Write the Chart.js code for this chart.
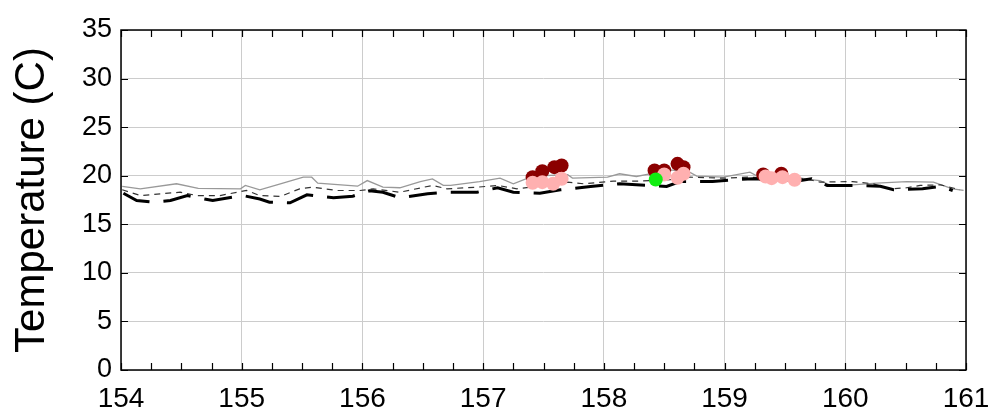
<!DOCTYPE html>
<html>
<head>
<meta charset="utf-8">
<script src="https://cdn.jsdelivr.net/npm/chart.js@4.4.1/dist/chart.umd.min.js"></script>
<style>
  html, body { margin: 0; padding: 0; background: #fff; }
  #wrap { width: 989px; height: 420px; }
</style>
</head>
<body>
<div id="wrap"><canvas id="tempChart"></canvas></div>
<script>
// thin gray solid line
const grayX = [154.01, 154.16, 154.46, 154.64, 154.99, 155.03, 155.15, 155.32, 155.51, 155.58, 155.63, 155.96, 156.04, 156.17, 156.31, 156.48, 156.58, 156.67, 156.73, 156.97, 157.14, 157.25, 157.37, 157.5, 157.70, 157.74, 158.03, 158.13, 158.27, 158.38, 158.55, 158.71, 158.77, 158.99, 159.21, 159.27, 159.46, 159.71, 159.79, 159.87, 160.06, 160.26, 160.51, 160.73, 160.89, 160.98];
const grayY = [18.9, 18.65, 19.17, 18.7, 18.65, 19.0, 18.55, 19.17, 19.85, 19.85, 19.23, 18.92, 19.5, 18.82, 18.76, 19.4, 19.68, 19.0, 19.0, 19.4, 19.75, 19.17, 19.75, 20.0, 20.1, 19.75, 19.85, 20.2, 19.92, 20.2, 20.6, 20.37, 19.96, 19.85, 20.37, 19.96, 20.1, 19.6, 19.5, 19.06, 19.06, 19.23, 19.4, 19.34, 18.65, 18.48];

// thin dark dashed line
const dashX = [154.01, 154.16, 154.49, 154.63, 154.82, 155.04, 155.15, 155.32, 155.48, 155.59, 155.79, 155.98, 156.09, 156.31, 156.58, 156.70, 156.95, 157.12, 157.28, 157.5, 157.70, 157.83, 158.08, 158.27, 158.38, 158.55, 158.71, 158.99, 159.19, 159.45, 159.68, 159.79, 160.06, 160.23, 160.37, 160.51, 160.62, 160.79, 160.95];
const dashY = [18.55, 17.96, 18.3, 17.96, 17.96, 18.48, 17.96, 17.86, 18.65, 18.82, 18.48, 18.48, 18.65, 18.3, 19.0, 18.65, 18.82, 19.0, 18.65, 19.0, 19.34, 19.17, 19.44, 19.44, 19.5, 19.6, 19.85, 19.75, 19.85, 19.7, 19.68, 19.34, 19.4, 19.17, 18.65, 18.76, 19.0, 19.06, 18.55];

// thick black long-dashed line
const blackX = [154.02, 154.13, 154.27, 154.41, 154.55, 154.61, 154.76, 155.01, 155.15, 155.23, 155.40, 155.54, 155.76, 155.92, 156.06, 156.17, 156.31, 156.54, 156.70, 156.95, 157.12, 157.25, 157.47, 157.64, 157.89, 158.13, 158.27, 158.52, 158.63, 158.90, 159.07, 159.24, 159.45, 159.63, 159.72, 159.85, 160.06, 160.29, 160.40, 160.64, 160.79, 160.89];
const blackY = [18.2, 17.45, 17.28, 17.45, 17.96, 17.8, 17.45, 17.96, 17.6, 17.28, 17.21, 18.03, 17.73, 17.89, 18.45, 18.3, 17.73, 18.14, 18.3, 18.3, 18.76, 18.3, 18.2, 18.55, 18.89, 19.17, 19.06, 18.89, 19.4, 19.4, 19.58, 19.68, 19.6, 19.5, 19.68, 19.0, 19.0, 18.92, 18.55, 18.65, 18.92, 18.48];

// observation dots
const darkRedX = [157.41, 157.49, 157.59, 157.65, 158.42, 158.50, 158.61, 158.66, 159.32, 159.47];
const darkRedY = [19.85, 20.47, 20.88, 21.05, 20.54, 20.54, 21.22, 20.88, 20.12, 20.2];
const pinkX = [157.41, 157.49, 157.58, 157.65, 158.50, 158.61, 158.66, 159.34, 159.39, 159.48, 159.58];
const pinkY = [19.27, 19.34, 19.17, 19.68, 20.12, 19.78, 20.2, 19.92, 19.75, 19.85, 19.58];
const greenX = [158.43];
const greenY = [19.61];

const xTicks = [154, 155, 156, 157, 158, 159, 160, 161];
const yTicks = [0, 5, 10, 15, 20, 25, 30, 35];

const pts = (xs, ys) => xs.map((x, i) => ({ x: x, y: ys[i] }));

// box round the plot with inward tick marks
const frameTicks = {
  id: 'frameTicks',
  afterDraw(chart) {
    const { ctx, chartArea: a, scales } = chart;
    const xs = scales.x, ys = scales.y;
    const len = 7;
    ctx.save();
    ctx.strokeStyle = '#000';
    ctx.lineWidth = 1.2;
    ctx.beginPath();
    for (let v = xs.min; v <= xs.max + 1e-9; v += 0.25) {
      const px = Math.round(xs.getPixelForValue(v)) + 0.5;
      ctx.moveTo(px, a.bottom); ctx.lineTo(px, a.bottom - len);
      ctx.moveTo(px, a.top); ctx.lineTo(px, a.top + len);
    }
    yTicks.forEach(v => {
      const py = Math.round(ys.getPixelForValue(v)) + 0.5;
      ctx.moveTo(a.left, py); ctx.lineTo(a.left + len, py);
      ctx.moveTo(a.right, py); ctx.lineTo(a.right - len, py);
    });
    ctx.stroke();
    ctx.lineWidth = 1.5;
    ctx.strokeRect(a.left, a.top, a.right - a.left, a.bottom - a.top);
    ctx.restore();
  }
};

Chart.defaults.font.family = '"Liberation Sans", Arial, sans-serif';
Chart.defaults.color = '#000';

new Chart(document.getElementById('tempChart'), {
  type: 'line',
  data: {
    datasets: [
      { type: 'scatter', data: pts(greenX, greenY), backgroundColor: '#11ee11', borderWidth: 0, pointRadius: 7, order: 0 },
      { type: 'scatter', data: pts(pinkX, pinkY), backgroundColor: '#ffb0b0', borderWidth: 0, pointRadius: 7, order: 1 },
      { type: 'scatter', data: pts(darkRedX, darkRedY), backgroundColor: '#8b0000', borderWidth: 0, pointRadius: 7, order: 2 },
      { data: pts(blackX, blackY), borderColor: '#000', borderWidth: 3, borderDash: [28, 14], pointRadius: 0, tension: 0, fill: false, order: 3 },
      { data: pts(dashX, dashY), borderColor: '#333', borderWidth: 1.2, borderDash: [6, 5], pointRadius: 0, tension: 0, fill: false, order: 4 },
      { data: pts(grayX, grayY), borderColor: '#999', borderWidth: 1.3, pointRadius: 0, tension: 0, fill: false, order: 5 }
    ]
  },
  options: {
    responsive: true,
    maintainAspectRatio: false,
    animation: false,
    events: [],
    layout: { padding: { top: 30, right: 0, left: 0, bottom: 0 } },
    plugins: { legend: { display: false }, tooltip: { enabled: false } },
    scales: {
      x: {
        type: 'linear',
        min: 154,
        max: 161,
        afterBuildTicks: s => { s.ticks = xTicks.map(v => ({ value: v })); },
        afterFit: s => { s.height = 50; s.paddingLeft = 0; s.paddingRight = 23; },
        ticks: { font: { size: 28 }, padding: 12, maxRotation: 0 },
        grid: { color: '#cccccc', lineWidth: 1, drawTicks: false },
        border: { display: false }
      },
      y: {
        min: 0,
        max: 35,
        afterBuildTicks: s => { s.ticks = yTicks.map(v => ({ value: v })); },
        afterFit: s => { s.width = 121; s.paddingTop = 0; s.paddingBottom = 0; },
        ticks: { font: { size: 27 }, padding: 9 },
        grid: { color: '#cccccc', lineWidth: 1, drawTicks: false },
        border: { display: false },
        title: { display: true, text: 'Temperature (C)', font: { size: 42 }, padding: { top: 7, bottom: 0 } }
      }
    }
  },
  plugins: [frameTicks]
});
</script>
</body>
</html>
